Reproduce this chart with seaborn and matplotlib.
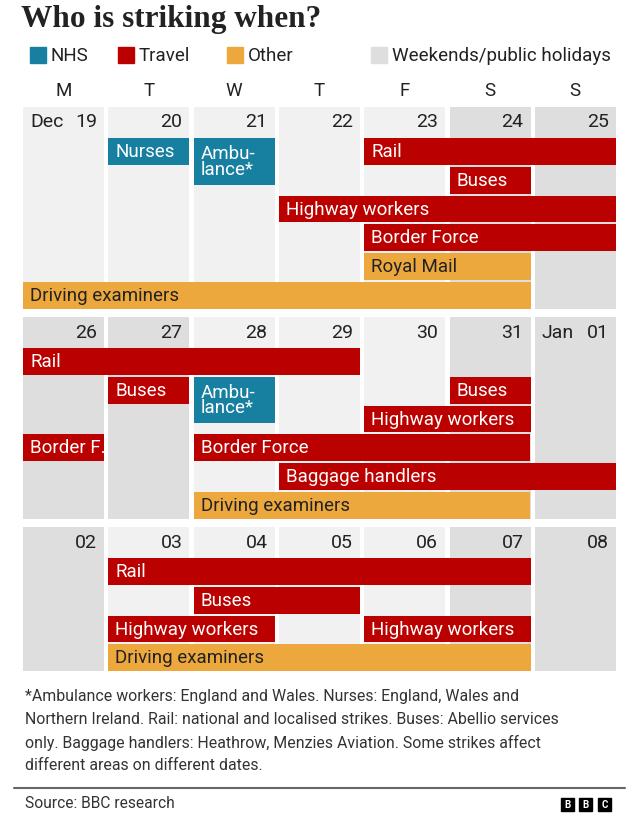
import matplotlib
matplotlib.use("Agg")
import matplotlib.pyplot as plt
from matplotlib.patches import Rectangle
import seaborn as sns

# colours
COLORS = {"NHS": "#1780A1", "Travel": "#BB0000", "Other": "#EDA83D"}
WEEKEND = "#DEDEDE"
WEEKDAY = "#F1F1F1"
TXT = "#222222"

day_letters = ["M", "T", "W", "T", "F", "S", "S"]

# week 1
week1_dates = ["19", "20", "21", "22", "23", "24", "25"]
week1_month = {0: "Dec"}
week1_holiday = [0, 0, 0, 0, 0, 1, 1]
week1_labels = ["Nurses", "Ambu-\nlance*", "Rail", "Buses", "Highway workers",
                "Border Force", "Royal Mail", "Driving examiners"]
week1_groups = ["NHS", "NHS", "Travel", "Travel", "Travel", "Travel", "Other", "Other"]
week1_start = [1, 2, 4, 5, 3, 4, 4, 0]
week1_days = [1, 1, 3, 1, 4, 3, 2, 6]
week1_row = [0, 0, 0, 1, 2, 3, 4, 5]

# week 2
week2_dates = ["26", "27", "28", "29", "30", "31", "01"]
week2_month = {6: "Jan"}
week2_holiday = [1, 1, 0, 0, 0, 1, 1]
week2_labels = ["Rail", "Buses", "Ambu-\nlance*", "Buses", "Highway workers",
                "Border F.", "Border Force", "Baggage handlers", "Driving examiners"]
week2_groups = ["Travel", "Travel", "NHS", "Travel", "Travel", "Travel", "Travel", "Travel", "Other"]
week2_start = [0, 1, 2, 5, 4, 0, 2, 3, 2]
week2_days = [4, 1, 1, 1, 2, 1, 4, 4, 4]
week2_row = [0, 1, 1, 1, 2, 3, 3, 4, 5]

# week 3
week3_dates = ["02", "03", "04", "05", "06", "07", "08"]
week3_month = {}
week3_holiday = [1, 0, 0, 0, 0, 1, 1]
week3_labels = ["Rail", "Buses", "Highway workers", "Highway workers", "Driving examiners"]
week3_groups = ["Travel", "Travel", "Travel", "Travel", "Other"]
week3_start = [1, 2, 1, 4, 1]
week3_days = [5, 2, 2, 2, 5]
week3_row = [0, 1, 2, 2, 3]

footnote_lines = [
    "*Ambulance workers: England and Wales. Nurses: England, Wales and",
    "Northern Ireland. Rail: national and localised strikes. Buses: Abellio services",
    "only. Baggage handlers: Heathrow, Menzies Aviation. Some strikes affect",
    "different areas on different dates.",
]

sns.set_style("white")
plt.rcParams["font.family"] = ["Roboto", "DejaVu Sans"]

W, H = 640, 821
fig = plt.figure(figsize=(W / 100, H / 100), dpi=100)
fig.patch.set_facecolor("white")

# layout (pixels)
LEFT = 23
COL = 85.3
COLW = 81
HEADER = 31
PITCH = 28.8
BARH = 26.8
FS = 13.5

# overlay for title / legend / footer
deco = fig.add_axes([0, 0, 1, 1])
deco.set_xlim(0, W)
deco.set_ylim(H, 0)
deco.axis("off")

deco.text(21, 20, "Who is striking when?", fontsize=22.5, fontweight="bold",
          family="Liberation Serif", color=TXT, va="center", ha="left")

legend_items = [("NHS", COLORS["NHS"], 30), ("Travel", COLORS["Travel"], 118),
                ("Other", COLORS["Other"], 227), ("Weekends/public holidays", WEEKEND, 371)]
for name, c, x in legend_items:
    deco.add_patch(Rectangle((x, 47), 16, 16, color=c))
    deco.text(x + 21, 56, name, fontsize=13.5, color=TXT, va="center", ha="left")

for i, d in enumerate(day_letters):
    deco.text(LEFT + i * COL + COLW / 2, 91, d, fontsize=13.5, color=TXT, va="center", ha="center")

for k, line in enumerate(footnote_lines):
    deco.text(25, 697 + 23 * k, line, fontsize=11.4, color="#333333", va="center", ha="left")
deco.plot([14, 625], [788, 788], color="#666666", lw=1.5)
deco.text(25, 804, "Source: BBC research", fontsize=11.2, color="#333333", va="center", ha="left")
for x, letter in zip([561, 579, 598], "BBC"):
    deco.add_patch(Rectangle((x, 798), 13, 13, color="black"))
    deco.text(x + 6.5, 804.8, letter, fontsize=7, fontweight="bold", color="white",
              va="center", ha="center")


def draw_week(top, dates, month, holiday, labels, groups, start, days, row):
    n_rows = max(row) + 1
    gy = (PITCH - BARH) / PITCH
    hdr = HEADER / PITCH
    gx = (COL - COLW) / COL
    h_px = HEADER + n_rows * PITCH - (PITCH - BARH)
    ax = fig.add_axes([LEFT / W, 1 - (top + h_px) / H, 7 * COL / W, h_px / H])
    ax.set_xlim(0, 7)
    ax.set_ylim(n_rows - gy, -hdr)
    ax.axis("off")

    col_colors = [WEEKEND if h else WEEKDAY for h in holiday]
    ax.bar(range(7), [n_rows - gy + hdr] * 7, bottom=-hdr, width=1 - gx,
           align="edge", color=col_colors, linewidth=0)

    pad = 7 / COL
    for i, d in enumerate(dates):
        ax.text(i + 1 - gx - pad, -hdr / 2, d, fontsize=FS + 0.5, color=TXT, ha="right", va="center")
    for i, m in month.items():
        ax.text(i + pad, -hdr / 2, m, fontsize=FS + 0.5, color=TXT, ha="left", va="center")

    for lab, g, s, n, r in zip(labels, groups, start, days, row):
        hgt = 1.62 if "\n" in lab else 1 - gy
        ax.barh(r, n - gx, left=s, height=hgt, align="edge", color=COLORS[g], linewidth=0)
        tc = TXT if g == "Other" else "white"
        ax.text(s + 7 / COL, r + hgt / 2 + 0.02, lab, fontsize=FS, color=tc,
                ha="left", va="center", linespacing=0.82)


draw_week(107, week1_dates, week1_month, week1_holiday, week1_labels, week1_groups,
          week1_start, week1_days, week1_row)
draw_week(317, week2_dates, week2_month, week2_holiday, week2_labels, week2_groups,
          week2_start, week2_days, week2_row)
draw_week(527, week3_dates, week3_month, week3_holiday, week3_labels, week3_groups,
          week3_start, week3_days, week3_row)

fig.savefig("out.png", dpi=100)
